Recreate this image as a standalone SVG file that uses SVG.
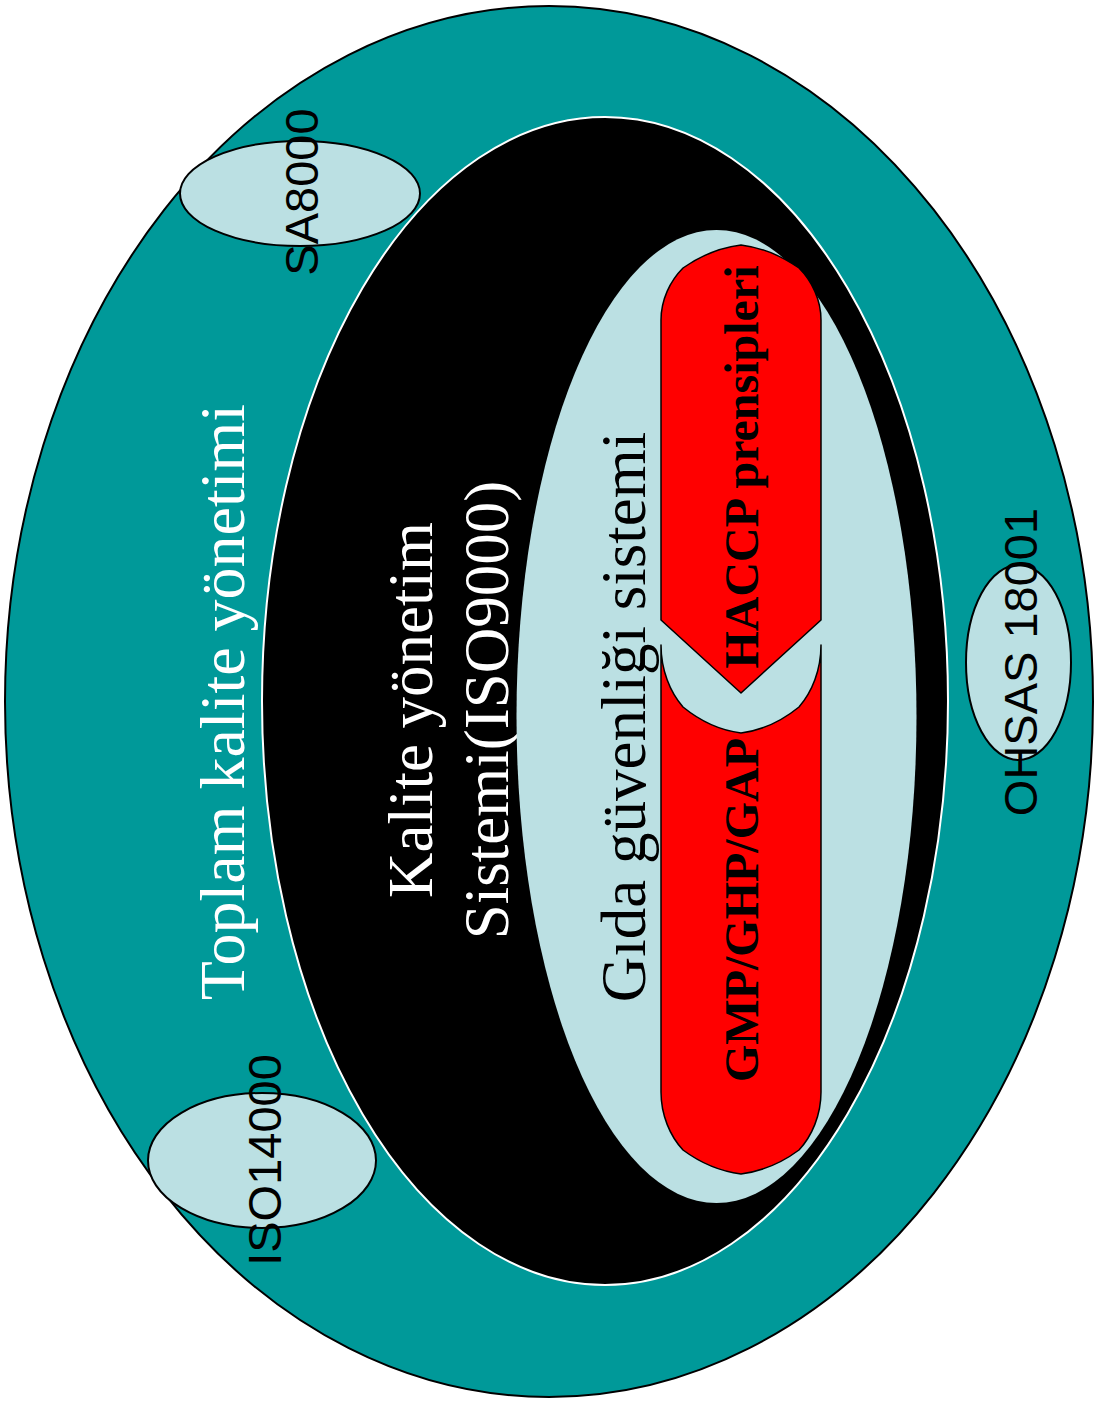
<svg xmlns="http://www.w3.org/2000/svg" width="1094" height="1408" viewBox="0 0 1094 1408">
  <style>
    .serif { font-family: "Liberation Serif", "Times New Roman", serif; }
    .sans { font-family: "Liberation Sans", Arial, sans-serif; }
    .big { font-size: 63px; }
    .outer { font-size: 64px; }
    .bold { font-size: 48px; font-weight: bold; fill: #000; }
    .std { font-size: 47px; fill: #000; }
    .light { fill: #BBE0E3; }
    .tag { fill: #BBE0E3; stroke: #000; stroke-width: 2; }
    .redbox { fill: #FF0000; stroke: #000; stroke-width: 1.5; stroke-linejoin: round; }
  </style>
  <rect width="1094" height="1408" fill="#FFFFFF"/>

  <!-- Total quality management (outer ring) -->
  <g id="toplam-kalite">
    <ellipse cx="549" cy="701.5" rx="544" ry="695.5" fill="#009999" stroke="#000" stroke-width="2"/>
    <text class="serif outer" fill="#FFFFFF" text-anchor="middle" transform="translate(244,702) rotate(-90)">Toplam kalite yönetimi</text>
  </g>

  <!-- Quality management system ISO9000 -->
  <g id="kalite-yonetim">
    <ellipse cx="605" cy="701" rx="343" ry="584" fill="#000" stroke="#FFFFFF" stroke-width="2"/>
    <text class="serif big" fill="#FFFFFF" text-anchor="middle" transform="translate(432,710) rotate(-90)">Kalite yönetim</text>
    <text class="serif big" fill="#FFFFFF" text-anchor="middle" transform="translate(508,710) rotate(-90)">Sistemi(ISO9000)</text>
  </g>

  <!-- Food safety system -->
  <g id="gida-guvenligi">
    <ellipse class="light" cx="716.5" cy="716.5" rx="200" ry="486.5"/>
    <text class="serif big" fill="#000" text-anchor="middle" transform="translate(645,717) rotate(-90)">Gıda güvenliği sistemi</text>
  </g>

  <!-- HACCP principles (upper chevron) -->
  <g id="haccp">
    <path class="redbox" d="M661,620 L661,320 C661,300 670,281 683,268 Q710,249 741,245 Q772,249 799,268 C812,281 821,300 821,320 L821,620 L741,693 Z"/>
    <text class="serif bold" text-anchor="middle" transform="translate(758,467) rotate(-90)">HACCP prensipleri</text>
  </g>

  <!-- GMP/GHP/GAP (lower base) -->
  <g id="gmp-ghp-gap">
    <path class="redbox" d="M661,645 C661,670 670,692 683,707 Q710,729 741,733 Q772,729 799,707 C812,692 821,670 821,645 L821,1092 C821,1115 812,1136 799,1150 Q772,1170 741,1174 Q710,1170 683,1150 C670,1136 661,1115 661,1092 Z"/>
    <text class="serif bold" text-anchor="middle" transform="translate(758,910) rotate(-90)">GMP/GHP/GAP</text>
  </g>

  <!-- Related standards -->
  <g id="sa8000">
    <ellipse class="tag" cx="300" cy="193.5" rx="120" ry="52.5"/>
    <text class="sans std" text-anchor="middle" transform="translate(318,192) rotate(-90)">SA8000</text>
  </g>

  <g id="ohsas18001">
    <ellipse class="tag" cx="1018.5" cy="662.5" rx="52.5" ry="97.5"/>
    <text class="sans std" text-anchor="middle" transform="translate(1037,662) rotate(-90)">OHSAS 18001</text>
  </g>

  <g id="iso14000">
    <ellipse class="tag" cx="262" cy="1160.5" rx="114" ry="67.5"/>
    <text class="sans std" text-anchor="middle" transform="translate(281,1160) rotate(-90)">ISO14000</text>
  </g>

  <g id="connectors"></g>
</svg>
